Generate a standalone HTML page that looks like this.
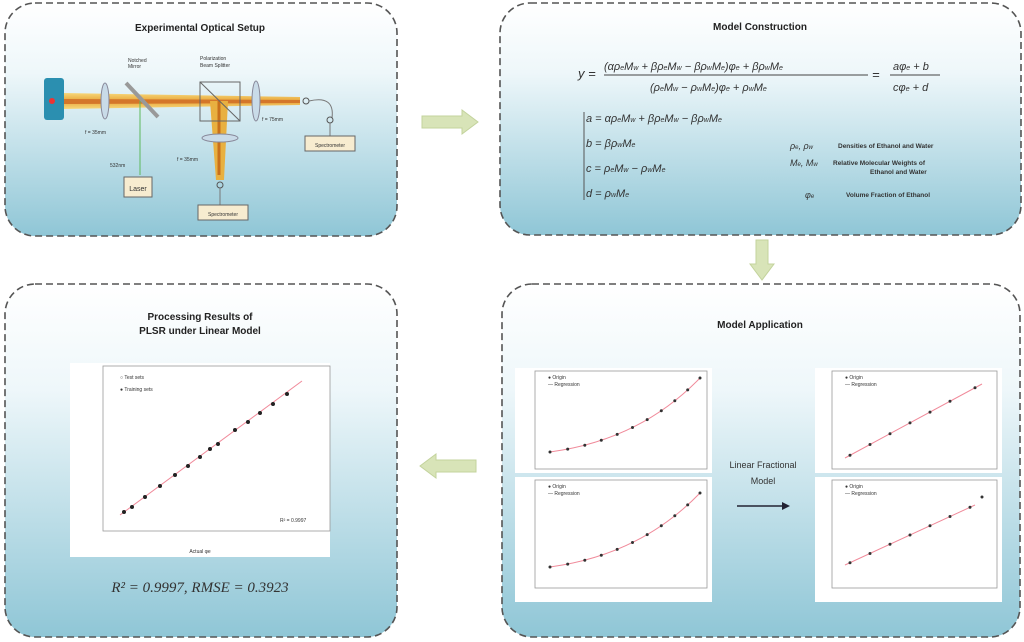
<!DOCTYPE html>
<html><head><meta charset="utf-8"><style>
body{margin:0;background:#fff;width:1024px;height:642px;overflow:hidden}
svg{display:block}
text{font-family:"Liberation Sans",sans-serif}
.t{font-weight:bold;font-size:10px;fill:#222;text-anchor:middle}
.m{font-family:"Liberation Serif",serif;font-style:italic;fill:#333}
.s{font-size:5px;fill:#333}
</style></head><body>
<svg width="1024" height="642" viewBox="0 0 1024 642">
<defs>
<linearGradient id="g" x1="0" y1="0" x2="0" y2="1">
<stop offset="0" stop-color="#ffffff"/><stop offset="0.3" stop-color="#eef7fa"/><stop offset="1" stop-color="#8fc6d6"/>
</linearGradient>
<linearGradient id="beam" x1="0" y1="0" x2="0" y2="1">
<stop offset="0" stop-color="#f7d87a"/><stop offset="0.5" stop-color="#e8a53a"/><stop offset="1" stop-color="#f7d87a"/>
</linearGradient>
<g id="curve">
<path d="M550 452 Q640 440 700 378" fill="none" stroke="#f08a9a" stroke-width="1"/>
<g fill="#333"><circle cx="550" cy="452" r="1.5"/><circle cx="567.7" cy="449.1" r="1.5"/><circle cx="584.8" cy="445.2" r="1.5"/><circle cx="601.3" cy="440.3" r="1.5"/><circle cx="617.2" cy="434.4" r="1.5"/><circle cx="632.5" cy="427.5" r="1.5"/><circle cx="647.2" cy="419.6" r="1.5"/><circle cx="661.3" cy="410.7" r="1.5"/><circle cx="674.8" cy="400.8" r="1.5"/><circle cx="687.7" cy="389.9" r="1.5"/><circle cx="700" cy="378" r="1.5"/></g>
</g>
</defs>
<g fill="url(#g)" stroke="#555" stroke-width="1.6" stroke-dasharray="7,4">
<rect x="5" y="3" width="392" height="233" rx="30"/>
<rect x="500" y="3" width="521" height="232" rx="30"/>
<rect x="5" y="284" width="392" height="353" rx="30"/>
<rect x="502" y="284" width="518" height="353" rx="30"/>
</g>
<g fill="#d8e4b8" stroke="#c3d39c">
<polygon points="422,116 462,116 462,110 478,122 462,134 462,128 422,128"/>
<polygon points="756,240 768,240 768,264 774,264 762,280 750,264 756,264"/>
<polygon points="476,460 436,460 436,454 420,466 436,478 436,472 476,472"/>
</g>
<!-- TL optical -->
<text class="t" x="200" y="31">Experimental Optical Setup</text>
<rect x="44" y="78" width="20" height="42" rx="3" fill="#2b8fb0"/>
<circle cx="52" cy="101" r="3" fill="#e33"/>
<polygon points="64,93 300,97 300,105 64,109" fill="url(#beam)"/>
<polygon points="64,99 300,100 300,103 64,104" fill="#d4762a"/>
<polygon points="210,101 228,101 224,180 216,180" fill="#e8b040"/>
<line x1="219" y1="101" x2="219" y2="175" stroke="#c8701c" stroke-width="3"/>
<ellipse cx="105" cy="101" rx="4" ry="18" fill="#c9dbe8" stroke="#889"/>
<line x1="126" y1="83" x2="158" y2="117" stroke="#999" stroke-width="4"/>
<line x1="140" y1="101" x2="140" y2="175" stroke="#5cb85c"/>
<rect x="200" y="82" width="40" height="39" fill="none" stroke="#666"/>
<line x1="200" y1="82" x2="240" y2="121" stroke="#666"/>
<ellipse cx="256" cy="101" rx="4" ry="20" fill="#c9dbe8" stroke="#889"/>
<ellipse cx="220" cy="138" rx="18" ry="4" fill="#c9dbe8" stroke="#889"/>
<circle cx="306" cy="101" r="3" fill="none" stroke="#555"/>
<path d="M309 101 Q335 95 332 118" fill="none" stroke="#777"/>
<circle cx="330" cy="120" r="3" fill="none" stroke="#555"/>
<circle cx="220" cy="185" r="3" fill="none" stroke="#555"/>
<line x1="220" y1="188" x2="220" y2="205" stroke="#777"/>
<line x1="330" y1="123" x2="330" y2="136" stroke="#777"/>
<g fill="#f7ecd0" stroke="#666">
<rect x="124" y="177" width="28" height="20"/>
<rect x="198" y="205" width="50" height="15"/>
<rect x="305" y="136" width="50" height="15"/>
</g>
<text x="138" y="191" font-size="7" text-anchor="middle" fill="#333">Laser</text>
<g class="s">
<text x="223" y="216" text-anchor="middle">Spectrometer</text>
<text x="330" y="147" text-anchor="middle">Spectrometer</text>
<text x="128" y="62">Notched</text><text x="128" y="68">Mirror</text>
<text x="200" y="60">Polarization</text><text x="200" y="67">Beam Splitter</text>
<text x="85" y="134">f = 35mm</text><text x="262" y="121">f = 75mm</text>
<text x="177" y="161">f = 35mm</text><text x="110" y="167">532nm</text>
</g>
<!-- TR model -->
<text class="t" x="760" y="30">Model Construction</text>
<g class="m" font-size="13">
<text x="578" y="78">y =</text>
<text x="604" y="70" font-size="11">(αρ<tspan font-size="7">e</tspan>M<tspan font-size="7">w</tspan> + βρ<tspan font-size="7">e</tspan>M<tspan font-size="7">w</tspan> − βρ<tspan font-size="7">w</tspan>M<tspan font-size="7">e</tspan>)φ<tspan font-size="7">e</tspan> + βρ<tspan font-size="7">w</tspan>M<tspan font-size="7">e</tspan></text>
<line x1="604" y1="75" x2="868" y2="75" stroke="#444"/>
<text x="650" y="91" font-size="11">(ρ<tspan font-size="7">e</tspan>M<tspan font-size="7">w</tspan> − ρ<tspan font-size="7">w</tspan>M<tspan font-size="7">e</tspan>)φ<tspan font-size="7">e</tspan> + ρ<tspan font-size="7">w</tspan>M<tspan font-size="7">e</tspan></text>
<text x="872" y="79">=</text>
<text x="893" y="70" font-size="11">aφ<tspan font-size="7">e</tspan> + b</text>
<line x1="890" y1="75" x2="940" y2="75" stroke="#444"/>
<text x="893" y="91" font-size="11">cφ<tspan font-size="7">e</tspan> + d</text>
<g font-size="11">
<text x="586" y="122">a = αρ<tspan font-size="7">e</tspan>M<tspan font-size="7">w</tspan> + βρ<tspan font-size="7">e</tspan>M<tspan font-size="7">w</tspan> − βρ<tspan font-size="7">w</tspan>M<tspan font-size="7">e</tspan></text>
<text x="586" y="147">b = βρ<tspan font-size="7">w</tspan>M<tspan font-size="7">e</tspan></text>
<text x="586" y="172">c = ρ<tspan font-size="7">e</tspan>M<tspan font-size="7">w</tspan> − ρ<tspan font-size="7">w</tspan>M<tspan font-size="7">e</tspan></text>
<text x="586" y="197">d = ρ<tspan font-size="7">w</tspan>M<tspan font-size="7">e</tspan></text>
<text x="790" y="149" font-size="9">ρ<tspan font-size="6">e</tspan>, ρ<tspan font-size="6">w</tspan></text>
<text x="790" y="166" font-size="9">M<tspan font-size="6">e</tspan>, M<tspan font-size="6">w</tspan></text>
<text x="805" y="198" font-size="9">φ<tspan font-size="6">e</tspan></text>
</g></g>
<path d="M584 112 L584 200" stroke="#555" stroke-width="1"/>
<g font-size="6.5" font-weight="bold" fill="#333">
<text x="838" y="148">Densities of Ethanol and Water</text>
<text x="833" y="165">Relative Molecular Weights of</text>
<text x="870" y="174">Ethanol and Water</text>
<text x="846" y="197">Volume Fraction of Ethanol</text>
</g>
<!-- BR -->
<text class="t" x="760" y="328">Model Application</text>
<rect x="515" y="368" width="197" height="105" fill="#fff"/>
<rect x="535" y="371" width="172" height="98" fill="none" stroke="#999" stroke-width="0.8"/>
<use href="#curve"/>
<text x="548" y="379" class="s">● Origin</text><text x="548" y="386" class="s">— Regression</text>
<rect x="515" y="477" width="197" height="125" fill="#fff"/>
<rect x="535" y="480" width="172" height="108" fill="none" stroke="#999" stroke-width="0.8"/>
<use href="#curve" transform="translate(0,115)"/>
<text x="548" y="488" class="s">● Origin</text><text x="548" y="495" class="s">— Regression</text>
<rect x="815" y="368" width="187" height="105" fill="#fff"/>
<rect x="832" y="371" width="165" height="98" fill="none" stroke="#999" stroke-width="0.8"/>
<line x1="845" y1="458" x2="982" y2="384" stroke="#f08a9a"/>
<g fill="#333"><circle cx="850" cy="455.3" r="1.5"/><circle cx="870" cy="444.5" r="1.5"/><circle cx="890" cy="433.7" r="1.5"/><circle cx="910" cy="422.9" r="1.5"/><circle cx="930" cy="412.1" r="1.5"/><circle cx="950" cy="401.3" r="1.5"/><circle cx="975" cy="387.8" r="1.5"/></g>
<text x="845" y="379" class="s">● Origin</text><text x="845" y="386" class="s">— Regression</text>
<rect x="815" y="477" width="187" height="125" fill="#fff"/>
<rect x="832" y="480" width="165" height="108" fill="none" stroke="#999" stroke-width="0.8"/>
<line x1="845" y1="565" x2="975" y2="505" stroke="#f08a9a"/>
<g fill="#333"><circle cx="850" cy="562.7" r="1.5"/><circle cx="870" cy="553.5" r="1.5"/><circle cx="890" cy="544.2" r="1.5"/><circle cx="910" cy="535" r="1.5"/><circle cx="930" cy="525.8" r="1.5"/><circle cx="950" cy="516.5" r="1.5"/><circle cx="970" cy="507.3" r="1.5"/><circle cx="982" cy="497" r="1.5"/></g>
<text x="845" y="488" class="s">● Origin</text><text x="845" y="495" class="s">— Regression</text>
<text x="763" y="468" font-size="9" fill="#333" text-anchor="middle">Linear Fractional</text>
<text x="763" y="484" font-size="9" fill="#333" text-anchor="middle">Model</text>
<line x1="737" y1="506" x2="783" y2="506" stroke="#223" stroke-width="1.5"/>
<polygon points="782,502 790,506 782,510" fill="#223"/>
<!-- BL -->
<text class="t" x="200" y="320">Processing Results of</text>
<text class="t" x="200" y="334">PLSR under Linear Model</text>
<rect x="70" y="363" width="260" height="194" fill="#fff"/>
<rect x="103" y="366" width="227" height="165" fill="none" stroke="#999" stroke-width="0.8"/>
<line x1="120" y1="515" x2="302" y2="381" stroke="#f08a9a"/>
<g fill="#222"><circle cx="124" cy="512" r="2"/><circle cx="132" cy="507" r="2"/><circle cx="145" cy="497" r="2"/><circle cx="160" cy="486" r="2"/><circle cx="175" cy="475" r="2"/><circle cx="188" cy="466" r="2"/><circle cx="200" cy="457" r="2"/><circle cx="210" cy="449" r="2"/><circle cx="218" cy="444" r="2"/><circle cx="235" cy="430" r="2"/><circle cx="248" cy="422" r="2"/><circle cx="260" cy="413" r="2"/><circle cx="273" cy="404" r="2"/><circle cx="287" cy="394" r="2"/></g>
<text x="120" y="379" class="s">○ Test sets</text><text x="120" y="391" class="s">● Training sets</text>
<text x="200" y="553" class="s" text-anchor="middle">Actual φe</text>
<text x="280" y="522" class="s">R² = 0.9997</text>
<text class="m" x="200" y="592" font-size="15" text-anchor="middle">R² = 0.9997, RMSE = 0.3923</text>
</svg>
</body></html>
